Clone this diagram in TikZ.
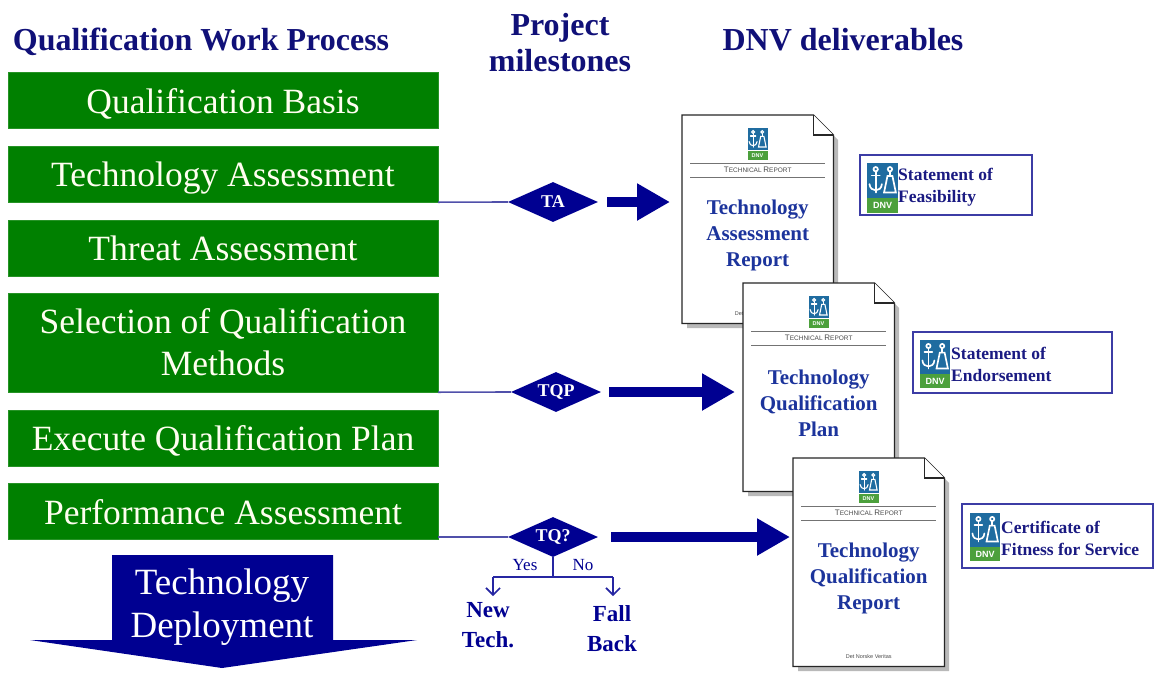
\documentclass[tikz,border=0pt]{standalone}
\usepackage{fontspec}
\setmainfont{Liberation Serif}
\newfontfamily\logofont{Liberation Sans}
\usetikzlibrary{shapes.geometric,arrows.meta,calc}

\definecolor{procgreen}{RGB}{0,128,0}
\definecolor{navy}{RGB}{0,0,145}
\definecolor{headblue}{RGB}{16,16,120}
\definecolor{titleblue}{RGB}{28,52,156}
\definecolor{linkblue}{RGB}{80,80,170}
\definecolor{framepurple}{RGB}{60,60,165}
\definecolor{logoblue}{RGB}{31,108,160}
\definecolor{logogreen}{RGB}{76,160,60}
\definecolor{boxtext}{RGB}{26,26,130}

% DNV logo: #1,#2 top-left corner, #3 width, #4 size of the "DNV" lettering
\newcommand{\dnvlogo}[4]{%
  \begin{scope}[shift={(#1,#2)}, x=#3pt, y=-#3pt]
    \fill[logoblue] (0,0) rectangle (1,1.12);
    \fill[logogreen] (0,1.14) rectangle (1,1.6);
    \node[text=white, font=\logofont\bfseries\fontsize{#4}{#4}\selectfont, inner sep=0] at (0.5,1.38) {DNV};
    \begin{scope}[draw=white, line width={#3*0.055pt}, line cap=round]
      % anchor
      \draw (0.28,0.2) circle[radius=0.07];
      \draw (0.28,0.27) -- (0.28,0.95);
      \draw (0.15,0.4) -- (0.41,0.4);
      \draw (0.08,0.68) .. controls (0.1,0.95) and (0.46,0.95) .. (0.48,0.68);
      % flask
      \draw (0.74,0.2) circle[radius=0.07];
      \draw (0.74,0.27) -- (0.74,0.42);
      \draw (0.66,0.42) -- (0.82,0.42) -- (0.93,0.95) -- (0.55,0.95) -- cycle;
    \end{scope}
  \end{scope}}

% Technical report sheet: #1 name, #2,#3 top-left corner, #4-#6 title lines
\newcommand{\reportpage}[6]{%
  \fill[gray!55] (#2+5,#3+5) -- (#2+136,#3+5) -- (#2+156,#3+25) -- (#2+156,#3+213) -- (#2+5,#3+213) -- cycle;
  \node[pagebox, anchor=north west] (#1) at (#2,#3) {};
  \draw[pageedge] (#1.north west) -- ($(#1.north east)+(-20,0)$) -- ($(#1.north east)+(0,20)$)
        -- (#1.south east) -- (#1.south west) -- cycle;
  \draw[pageedge] ($(#1.north east)+(-20,0)$) -- ($(#1.north east)+(-20,20)$) -- ($(#1.north east)+(0,20)$);
  \dnvlogo{#2+65.5}{#3+13}{20}{5.5}
  \draw[rule] ($(#1.north west)+(8,48)$) -- ($(#1.north east)+(-8,48)$);
  \draw[rule] ($(#1.north west)+(8,62)$) -- ($(#1.north east)+(-8,62)$);
  \node[smallcapsline] (#1-kind) at ($(#1.north)+(0,55)$)
    {{\fontsize{8}{8}\selectfont T}ECHNICAL {\fontsize{8}{8}\selectfont R}EPORT};
  \node[reptitle] (#1-title) at ($(#1.north)+(0,120)$) {#4\\#5\\#6};
  \node[footline] (#1-foot) at ($(#1.south)+(0,-10)$) {Det Norske Veritas};
}

\begin{document}
\begin{tikzpicture}[x=1pt, y=-1pt,
  procbox/.style={fill=procgreen, draw=procgreen!85!white, minimum width=430, minimum height=56,
    text=white!94!yellow, font=\fontsize{35.5}{42}\selectfont, align=center, inner sep=0, text depth=0pt},
  header/.style={text=headblue, font=\bfseries\fontsize{32}{36}\selectfont, align=center, inner sep=0},
  milestone/.style={diamond, fill=navy, text=white, font=\bfseries\fontsize{18}{18}\selectfont,
    minimum width=90, minimum height=40, aspect=2.2, inner sep=0},
  link/.style={draw=linkblue, line width=1.6},
  blockarrow/.style={draw=navy, line width=10, -{Triangle[length=33pt,width=35pt]}},
  pagebox/.style={minimum width=151, minimum height=208, inner sep=0, draw=none},
  pageedge/.style={draw=black!85, line width=1.3, fill=white, line join=miter},
  rule/.style={draw=black!55, line width=0.8},
  smallcapsline/.style={text=black!70, font=\logofont\fontsize{6.5}{6.5}\selectfont, inner sep=0},
  footline/.style={text=black!70, font=\logofont\fontsize{5.5}{5.5}\selectfont, inner sep=0},
  reptitle/.style={text=titleblue, font=\bfseries\fontsize{21}{26}\selectfont, align=center, inner sep=0},
  certbox/.style={draw=framepurple, line width=1.6, fill=white, inner sep=0},
  certtext/.style={text=boxtext, font=\bfseries\fontsize{17.5}{22}\selectfont, align=left, inner sep=0, anchor=west},
  choice/.style={text=navy, font=\fontsize{17}{17}\selectfont, inner sep=0},
  outcome/.style={text=navy, font=\bfseries\fontsize{23}{30}\selectfont, align=center, inner sep=0},
  forkline/.style={draw=navy!85!white, line width=1.6},
  deploytext/.style={text=white, font=\fontsize{37}{43}\selectfont, align=center, inner sep=0}
]
\useasboundingbox (0,0) rectangle (1155,672);

% column headings
\node[header, anchor=base] (hProc) at (201,50) {Qualification Work Process};
\node[header] (hMile) at (560,43) {Project\\milestones};
\node[header, anchor=base] (hDel) at (843,50) {DNV deliverables};

% qualification work process steps
\node[procbox] (qb)   at (223,100.5) {Qualification Basis};
\node[procbox] (ta)   at (223,174)   {Technology Assessment};
\node[procbox] (thr)  at (223,248)   {Threat Assessment};
\node[procbox, minimum height=99, text depth=] (sel) at (223,342.5) {Selection of Qualification\\Methods};
\node[procbox] (exe)  at (223,438)   {Execute Qualification Plan};
\node[procbox] (perf) at (223,511.5) {Performance Assessment};

% technology deployment arrow
\fill[navy] (112,555) -- (333,555) -- (333,640) -- (417,640) -- (222,668) -- (30,640) -- (112,640) -- cycle;
\node[deploytext] (deploy) at (222,607) {Technology\\Deployment};

% milestones
\node[milestone] (mTA)  at (553,202) {TA};
\node[milestone] (mTQP) at (556,392) {TQP};
\node[milestone] (mTQ)  at (553,537) {TQ?};
\draw[link] (ta.south east) -- (mTA.west);
\draw[link] (sel.south east) -- (mTQP.west);
\draw[link] (mTQ.west -| perf.east) -- (mTQ.west);

% decision fork after TQ?
\coordinate (fork)  at (553,577);
\coordinate (forkL) at (493,577);
\coordinate (forkR) at (613,577);
\coordinate (tipL)  at (493,596);
\coordinate (tipR)  at (613,596);
\draw[forkline] (mTQ.south) -- (fork);
\draw[forkline] (forkL) -- (forkR);
\draw[forkline, -{Straight Barb[length=7pt,width=14pt]}] (forkL) -- (tipL);
\draw[forkline, -{Straight Barb[length=7pt,width=14pt]}] (forkR) -- (tipR);
\node[choice] (yes) at (525,565) {Yes};
\node[choice] (no)  at (583,565) {No};
\node[outcome] (newtech)  at (488,625) {New\\Tech.};
\node[outcome] (fallback) at (612,629) {Fall\\Back};

% DNV report sheets
\reportpage{repTA}{682}{115}{Technology}{Assessment}{Report}
\reportpage{repTQP}{743}{283}{Technology}{Qualification}{Plan}
\reportpage{repTQR}{793}{458}{Technology}{Qualification}{Report}

% milestone to deliverable arrows
\draw[blockarrow, shorten <=9pt, shorten >=12pt] (mTA.east) -- (mTA.east -| repTA.west);
\draw[blockarrow, shorten <=8pt, shorten >=8pt] (mTQP.east) -- (mTQP.east -| repTQP.west);
\draw[blockarrow, shorten <=13pt, shorten >=3pt] (mTQ.east) -- (mTQ.east -| repTQR.west);

% statements and certificate
\node[certbox, minimum width=172, minimum height=60] (cFeas) at (946,185) {};
\dnvlogo{867}{163}{31}{9}
\node[certtext] (cFeasT) at (898,187) {Statement of\\Feasibility};

\node[certbox, minimum width=199, minimum height=61] (cEnd) at (1012.5,362.5) {};
\dnvlogo{920}{340}{30}{9}
\node[certtext] (cEndT) at (951,364) {Statement of\\Endorsement};

\node[certbox, minimum width=191, minimum height=64] (cFit) at (1057.5,536) {};
\dnvlogo{970}{513}{30}{9}
\node[certtext] (cFitT) at (1001,538) {Certificate of\\Fitness for Service};
\end{tikzpicture}
\end{document}
